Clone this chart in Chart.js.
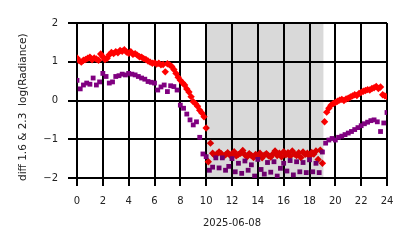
<!DOCTYPE html>
<html>
<head>
<meta charset="utf-8">
<script src="https://cdn.jsdelivr.net/npm/chart.js@4.4.1/dist/chart.umd.min.js"></script>
<style>
  html, body { margin: 0; padding: 0; background: #fff; }
  #wrap { width: 414px; height: 248px; }
</style>
</head>
<body>
<div id="wrap"><canvas id="chart" width="414" height="248"></canvas></div>
<script>
// sampling: red every 10 min, purple every 15 min, starting at 00:00
const redStepMin = 10;
const purpleStepMin = 15;

// diff 1.6 & 2.3 log(Radiance), red series (one row per hour)
const redValues = [
  1.10, 1.03, 0.99, 1.04, 1.06, 1.09,
  1.12, 1.05, 1.10, 1.07, 1.04, 1.20,
  1.13, 1.06, 1.09, 1.18, 1.24, 1.21,
  1.26, 1.23, 1.29, 1.27, 1.31, 1.25,
  1.22, 1.26, 1.19, 1.21, 1.17, 1.13,
  1.12, 1.08, 1.06, 1.02, 0.99, 0.96,
  0.97, 0.94, 0.96, 0.92, 0.93, 0.74,
  0.95, 0.92, 0.88, 0.80, 0.70, 0.60,
  0.52, 0.46, 0.40, 0.30, 0.22, 0.10,
  -0.03, -0.08, -0.15, -0.25, -0.32, -0.42,
  -0.71, -1.58, -1.10, -1.36, -1.42, -1.38,
  -1.33, -1.37, -1.44, -1.40, -1.35, -1.41,
  -1.38, -1.32, -1.43, -1.39, -1.36, -1.29,
  -1.40, -1.45, -1.37, -1.42, -1.47, -1.39,
  -1.44, -1.36, -1.48, -1.41, -1.37, -1.43,
  -1.46, -1.38, -1.30, -1.42, -1.36, -1.45,
  -1.32, -1.40, -1.35, -1.44, -1.30, -1.38,
  -1.42, -1.35, -1.47, -1.33, -1.39, -1.36,
  -1.44, -1.34, -1.38, -1.30, -1.52, -1.28,
  -1.62, -0.55, -0.30, -0.20, -0.12, -0.08,
  -0.05, -0.02, 0.01, 0.03, 0.00, 0.04,
  0.06, 0.09, 0.12, 0.15, 0.13, 0.18,
  0.21, 0.24, 0.26, 0.28, 0.27, 0.31,
  0.33, 0.36, 0.31, 0.35, 0.15, 0.12,
  0.10
];

// purple series (one row per hour)
const purpleValues = [
  0.52, 0.30, 0.40, 0.45,
  0.42, 0.58, 0.40, 0.48,
  0.70, 0.62, 0.45, 0.48,
  0.62, 0.64, 0.68, 0.66,
  0.70, 0.68, 0.66, 0.62,
  0.58, 0.55, 0.49, 0.47,
  0.45, 0.27, 0.35, 0.40,
  0.23, 0.38, 0.36, 0.27,
  -0.12, -0.20, -0.35, -0.50,
  -0.63, -0.55, -0.95, -1.38,
  -1.45, -1.80, -1.72, -1.48,
  -1.74, -1.48, -1.80, -1.70,
  -1.50, -1.84, -1.62, -1.88,
  -1.56, -1.80, -1.66, -1.95,
  -1.52, -1.78, -1.90, -1.60,
  -1.85, -1.58, -1.95, -1.75,
  -1.62, -1.82, -1.55, -1.92,
  -1.58, -1.84, -1.60, -1.86,
  -1.53, -1.84, -1.62, -1.86,
  -1.33, -1.10, -1.02, -0.98,
  -1.02, -0.95, -0.92, -0.88,
  -0.84, -0.80, -0.75, -0.70,
  -0.65, -0.60, -0.56, -0.52,
  -0.50, -0.55, -0.80, -0.58,
  -0.31
];

// shaded interval (hours)
const shadeSpan = [10.05, 19.05];

const xTickHours = [0, 2, 4, 6, 8, 10, 12, 14, 16, 18, 20, 22, 24];
const yTickValues = [-2, -1, 0, 1, 2];
const xTitle = '2025-06-08';
// trailing spaces push the rotated label a little lower, as in the reference
const yTitle = 'diff 1.6 & 2.3  log(Radiance)    ';

function toPoints(values, stepMin) {
  return values.map((v, i) => ({ x: i * stepMin / 60, y: v }));
}

const FONT = 'DejaVu Sans';
const PLOT = { left: 77, right: 387, top: 23, bottom: 178 };

// gray band over the night interval, drawn over the markers like the reference
const shadePlugin = {
  id: 'shade',
  afterDatasetsDraw(chart) {
    const { ctx, chartArea, scales } = chart;
    const x0 = scales.x.getPixelForValue(shadeSpan[0]);
    const x1 = scales.x.getPixelForValue(shadeSpan[1]);
    ctx.save();
    ctx.fillStyle = 'rgba(0,0,0,0.15)';
    ctx.fillRect(x0, chartArea.top, x1 - x0, chartArea.bottom - chartArea.top);
    ctx.fillStyle = 'rgba(0,0,0,0.06)';
    ctx.fillRect(x0 - 1, chartArea.top, 1, chartArea.bottom - chartArea.top);
    ctx.fillRect(x1, chartArea.top, 1, chartArea.bottom - chartArea.top);
    ctx.restore();
  }
};

const bgPlugin = {
  id: 'bg',
  beforeDraw(chart) {
    const { ctx } = chart;
    ctx.save();
    ctx.fillStyle = '#fff';
    ctx.fillRect(0, 0, chart.width, chart.height);
    ctx.restore();
  }
};

const ctx = document.getElementById('chart').getContext('2d');
new Chart(ctx, {
  type: 'scatter',
  data: {
    datasets: [{
      label: 'purple',
      data: toPoints(purpleValues, purpleStepMin),
      backgroundColor: '#800080',
      pointStyle: 'rect',
      pointRadius: 3.4,
      pointBorderWidth: 0,
      pointHoverRadius: 3.4
    }, {
      label: 'red',
      data: toPoints(redValues, redStepMin),
      backgroundColor: '#ff0000',
      pointStyle: 'rectRot',
      pointRadius: 3.7,
      pointBorderWidth: 0,
      pointHoverRadius: 3.7
    }]
  },
  options: {
    responsive: false,
    animation: false,
    events: [],
    layout: {
      padding: { left: 0, top: PLOT.top, right: 414 - PLOT.right, bottom: 0 }
    },
    plugins: {
      legend: { display: false },
      tooltip: { enabled: false }
    },
    scales: {
      x: {
        type: 'linear',
        min: 0,
        max: 24,
        afterBuildTicks: (s) => { s.ticks = xTickHours.map(v => ({ value: v })); },
        afterFit: (s) => { s.height = 248 - PLOT.bottom; },
        grid: { color: '#000', lineWidth: 2, tickLength: 8, drawTicks: true },
        border: { display: true, color: '#000', width: 2 },
        ticks: {
          color: '#222',
          padding: 9,
          maxRotation: 0,
          font: { family: FONT, size: 10 }
        },
        title: {
          display: true,
          text: xTitle,
          color: '#222',
          font: { family: FONT, size: 10 },
          padding: { top: 0, bottom: 19 }
        }
      },
      y: {
        min: -2,
        max: 2,
        afterBuildTicks: (s) => { s.ticks = yTickValues.map(v => ({ value: v })); },
        afterFit: (s) => { s.width = PLOT.left; },
        grid: { color: '#000', lineWidth: 2, tickLength: 9, drawTicks: true },
        border: { display: true, color: '#000', width: 2 },
        ticks: {
          color: '#222',
          padding: 10,
          font: { family: FONT, size: 10 },
          callback: (v) => String(v).replace('-', '\u2212')
        },
        title: {
          display: true,
          text: yTitle,
          color: '#222',
          font: { family: FONT, size: 10.5 },
          padding: { top: 17, bottom: 0 }
        }
      }
    }
  },
  plugins: [bgPlugin, shadePlugin]
});
</script>
</body>
</html>
